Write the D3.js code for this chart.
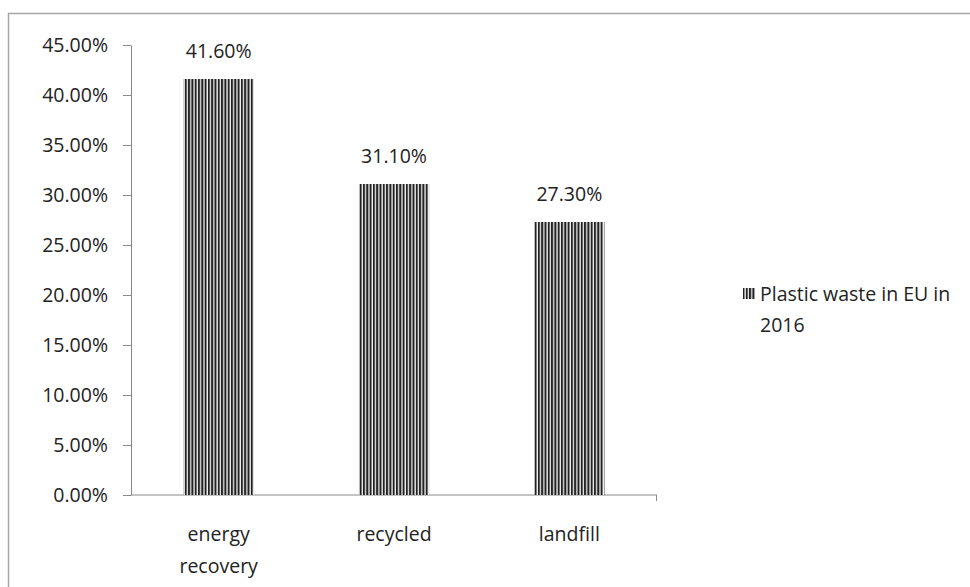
<!DOCTYPE html>
<html>
<head>
<meta charset="utf-8">
<script src="https://cdn.jsdelivr.net/npm/d3@7"></script>
<style>
  body { margin: 0; background: #fff; }
  svg text { font-family: "Open Sans", "DejaVu Sans", sans-serif; fill: #222; }
</style>
</head>
<body>
<svg id="chart" width="970" height="587"></svg>
<script>
const categories = [["energy", "recovery"], ["recycled"], ["landfill"]];
const values = [41.6, 31.1, 27.3];
const yTicks = [0, 5, 10, 15, 20, 25, 30, 35, 40, 45];
const seriesName = ["Plastic waste in EU in", "2016"];

const svg = d3.select("#chart");
const fontSize = "19.5px";

// chart frame
svg.append("path")
    .attr("d", "M8.5,587 V13.5 H970")
    .attr("fill", "none")
    .attr("stroke", "#a6a6a6")
    .attr("stroke-width", 1.5);

const defs = svg.append("defs");
const pat = defs.append("pattern")
    .attr("id", "stripes")
    .attr("patternUnits", "userSpaceOnUse")
    .attr("width", 3.3)
    .attr("height", 10);
pat.append("rect").attr("width", 3.3).attr("height", 10).attr("fill", "#f2f2f2");
pat.append("rect").attr("width", 2).attr("height", 10).attr("fill", "#222");

const plotLeft = 131, plotRight = 657, plotTop = 45, plotBottom = 495;

const x = d3.scaleBand()
    .domain(d3.range(values.length))
    .range([plotLeft, plotRight])
    .paddingInner(0.6)
    .paddingOuter(0.3);

const y = d3.scaleLinear().domain([0, 45]).range([plotBottom, plotTop]);

// y axis
const yAxis = svg.append("g")
    .attr("transform", `translate(${plotLeft},0)`)
    .call(d3.axisLeft(y).tickValues(yTicks).tickSize(8).tickSizeOuter(0)
        .tickFormat(d => d.toFixed(2) + "%"));
yAxis.select(".domain").attr("stroke", "#888");
yAxis.selectAll(".tick line").attr("stroke", "#888");
yAxis.selectAll(".tick text")
    .attr("x", -23)
    .style("font-size", fontSize)
    .attr("fill", "#222");

// x axis line
const xAxis = svg.append("g").attr("transform", `translate(0,${plotBottom})`);
xAxis.append("line")
    .attr("x1", plotLeft).attr("x2", plotRight)
    .attr("stroke", "#888");
xAxis.append("line")
    .attr("x1", plotRight - 0.5).attr("x2", plotRight - 0.5)
    .attr("y1", 0).attr("y2", 6)
    .attr("stroke", "#888");

// bars
svg.selectAll(".bar")
    .data(values)
    .enter().append("rect")
    .attr("class", "bar")
    .attr("x", (d, i) => x(i))
    .attr("y", d => y(d))
    .attr("width", x.bandwidth())
    .attr("height", d => plotBottom - y(d))
    .attr("fill", "url(#stripes)");

// value labels
svg.selectAll(".label")
    .data(values)
    .enter().append("text")
    .attr("class", "label")
    .attr("x", (d, i) => x(i) + x.bandwidth() / 2)
    .attr("y", d => y(d) - 28)
    .attr("dy", "0.35em")
    .attr("text-anchor", "middle")
    .style("font-size", fontSize)
    .text(d => d.toFixed(2) + "%");

// category labels
categories.forEach((lines, i) => {
    const t = svg.append("text")
        .attr("x", x(i) + x.bandwidth() / 2)
        .attr("y", 534)
        .attr("text-anchor", "middle")
        .style("font-size", fontSize);
    lines.forEach((s, k) => {
        t.append("tspan")
            .attr("x", x(i) + x.bandwidth() / 2)
            .attr("dy", k === 0 ? "0.35em" : "32px")
            .text(s);
    });
});

// legend
svg.append("rect")
    .attr("x", 743).attr("y", 288)
    .attr("width", 12).attr("height", 11)
    .attr("fill", "url(#stripes)");
const lg = svg.append("text")
    .attr("x", 760)
    .attr("y", 294)
    .style("font-size", fontSize);
seriesName.forEach((s, k) => {
    lg.append("tspan")
        .attr("x", 760)
        .attr("dy", k === 0 ? "0.35em" : "31px")
        .text(s);
});
</script>
</body>
</html>
